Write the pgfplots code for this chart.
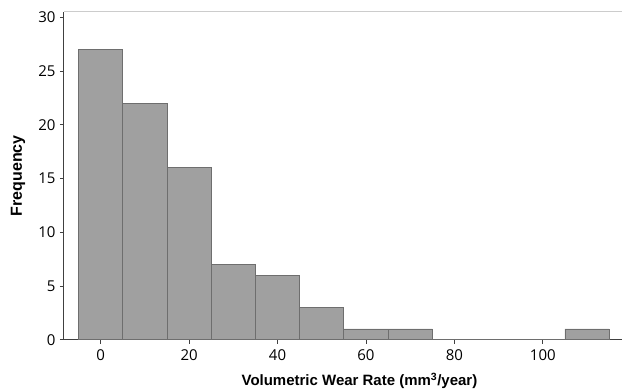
\documentclass[border=0pt]{standalone}
\usepackage{pgfplots}
\pgfplotsset{compat=1.18}
\usepackage{fontspec}
\setmainfont{Open Sans}
\newfontfamily\labfont{Liberation Sans}
\definecolor{barfill}{HTML}{A0A0A0}
\definecolor{baredge}{HTML}{6E6E6E}
\begin{document}
\begin{tikzpicture}
\begin{axis}[
  scale only axis,
  width=558bp, height=328bp,
  xmin=-8.3, xmax=117.8,
  ymin=0, ymax=30.5,
  axis lines*=left,
  axis line style={draw=black!75, line width=1pt},
  xtick={0,20,40,60,80,100},
  ytick={0,5,10,15,20,25,30},
  tick style={draw=black!75, line width=0.8pt},
  tick align=outside,
  major tick length=4bp,
  /pgf/number format/assume math mode=true,
  ticklabel style={font=\fontsize{15bp}{17bp}\selectfont, text=black},
  xticklabel style={yshift=-2bp},
  yticklabel style={xshift=-1bp},
  xlabel={\labfont\bfseries Volumetric Wear Rate (mm\textsuperscript{3}/year)},
  ylabel={\labfont\bfseries Frequency},
  xlabel style={font=\fontsize{15bp}{17bp}\selectfont, at={(axis description cs:0.53,0)}, anchor=center, yshift=-41bp},
  ylabel style={font=\fontsize{16bp}{18bp}\selectfont, at={(axis description cs:0,0.5)}, anchor=center, yshift=46bp},
  clip=false,
]
\addplot[ybar interval, fill=barfill, draw=baredge, line width=0.7pt]
  coordinates {(-5,27)(5,22)(15,16)(25,7)(35,6)(45,3)(55,1)(65,1)(75,0)(85,0)(95,0)(105,1)(115,1)};
\draw[black!20, line width=1pt] (rel axis cs:0,1) -- (rel axis cs:1,1);
\end{axis}
\path[use as bounding box] ([xshift=-64bp,yshift=-50bp]current axis.south west) rectangle ([yshift=12bp]current axis.north east);
\end{tikzpicture}
\end{document}
